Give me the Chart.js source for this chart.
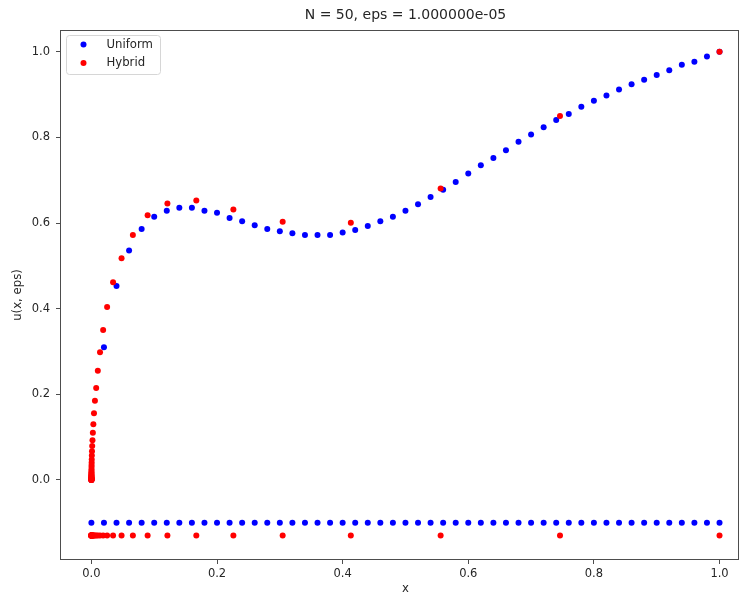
<!DOCTYPE html>
<html lang="en">
<head>
  <meta charset="UTF-8">
  <title>N = 50, eps = 1.000000e-05</title>
  <script src="https://cdn.jsdelivr.net/npm/chart.js"></script>
  <style>
    html, body { margin: 0; padding: 0; background: #fff; }
    #wrap { width: 742px; height: 596px; }
  </style>
</head>
<body>
  <div id="wrap"><canvas id="solChart" width="742" height="596"></canvas></div>

  <script>
    // values
    const titleText = 'N = 50, eps = 1.000000e-05';
    const seriesNames = ['Uniform', 'Hybrid'];

    const uniformX = [0, 0.02, 0.04, 0.06, 0.08, 0.10, 0.12, 0.14, 0.16, 0.18,
      0.20, 0.22, 0.24, 0.26, 0.28, 0.30, 0.32, 0.34, 0.36, 0.38,
      0.40, 0.42, 0.44, 0.46, 0.48, 0.50, 0.52, 0.54, 0.56, 0.58,
      0.60, 0.62, 0.64, 0.66, 0.68, 0.70, 0.72, 0.74, 0.76, 0.78,
      0.80, 0.82, 0.84, 0.86, 0.88, 0.90, 0.92, 0.94, 0.96, 0.98, 1.00];
    const uniformY = [0, 0.310, 0.453, 0.536, 0.586, 0.615, 0.629, 0.636, 0.636, 0.629,
      0.624, 0.612, 0.604, 0.595, 0.586, 0.581, 0.576, 0.572, 0.572, 0.572,
      0.578, 0.584, 0.593, 0.604, 0.615, 0.629, 0.644, 0.661, 0.678, 0.696,
      0.716, 0.735, 0.752, 0.770, 0.790, 0.807, 0.824, 0.841, 0.855, 0.872,
      0.886, 0.898, 0.912, 0.924, 0.935, 0.946, 0.957, 0.970, 0.977, 0.989, 1.000];

    const hybridX = [0, 0.0000004, 0.0000005, 0.0000007, 0.0000009, 0.0000012, 0.0000016, 0.0000022, 0.000003, 0.000004,
      0.0000055, 0.0000075, 0.00001, 0.000014, 0.000018, 0.000025, 0.000033, 0.000045, 0.00006, 0.00008,
      0.00011, 0.00015, 0.00021, 0.00028, 0.00038, 0.00051, 0.00069, 0.00093, 0.00125, 0.0017,
      0.0023, 0.0031, 0.0041, 0.0056, 0.0076, 0.0102, 0.0137, 0.0187, 0.025, 0.0345,
      0.048, 0.066, 0.0895, 0.121, 0.167, 0.226, 0.3045, 0.413, 0.556, 0.746, 1.0];
    const hybridY = [0, 0.0001, 0.0002, 0.0004, 0.0007, 0.001, 0.0015, 0.002, 0.0025, 0.003,
      0.0038, 0.0045, 0.0055, 0.0065, 0.008, 0.009, 0.011, 0.013, 0.015, 0.018,
      0.021, 0.025, 0.030, 0.035, 0.041, 0.048, 0.057, 0.067, 0.079, 0.093,
      0.110, 0.130, 0.156, 0.185, 0.215, 0.255, 0.298, 0.350, 0.404, 0.462,
      0.518, 0.572, 0.618, 0.646, 0.653, 0.632, 0.603, 0.601, 0.681, 0.850, 1.0];

    // the mesh nodes are drawn as two rows under the curves
    const uniformMeshLevel = -0.10;
    const hybridMeshLevel = -0.13;

    const xTicks = [0, 0.2, 0.4, 0.6, 0.8, 1.0];
    const yTicks = [0, 0.2, 0.4, 0.6, 0.8, 1.0];

    const FONT = 'DejaVu Sans';
    const TEXT = '#262626';
    const BLUE = '#0000ff';
    const RED = '#ff0000';

    const toPoints = (xs, ys) => xs.map((x, i) => ({ x: x, y: ys[i] }));
    const toRow = (xs, level) => xs.map(x => ({ x: x, y: level }));

    // title, axis names, frame and legend box (matplotlib look)
    const decorations = {
      id: 'decorations',
      afterDraw(chart) {
        const ctx = chart.ctx;
        const a = chart.chartArea;
        const xs = chart.scales.x;
        const mid = (xs.getPixelForValue(-0.05) + xs.getPixelForValue(1.05)) / 2;
        ctx.save();

        ctx.strokeStyle = '#4d4d4d';
        ctx.lineWidth = 1;
        ctx.strokeRect(a.left + 0.5, a.top + 0.5, a.right - a.left - 1, a.bottom - a.top - 1);

        ctx.fillStyle = TEXT;
        ctx.textAlign = 'center';
        ctx.textBaseline = 'middle';
        ctx.font = '14px "' + FONT + '"';
        ctx.fillText(titleText, mid, 15);

        ctx.font = '11.7px "' + FONT + '"';
        ctx.fillText('x', mid, 589);
        ctx.translate(18, (a.top + a.bottom) / 2);
        ctx.rotate(-Math.PI / 2);
        ctx.fillText('u(x, eps)', 0, 0);
        ctx.setTransform(1, 0, 0, 1, 0, 0);

        // legend
        const bx = a.left + 6.5, by = a.top + 5.5, bw = 94, bh = 39, r = 3;
        ctx.beginPath();
        ctx.moveTo(bx + r, by);
        ctx.arcTo(bx + bw, by, bx + bw, by + bh, r);
        ctx.arcTo(bx + bw, by + bh, bx, by + bh, r);
        ctx.arcTo(bx, by + bh, bx, by, r);
        ctx.arcTo(bx, by, bx + bw, by, r);
        ctx.closePath();
        ctx.fillStyle = 'rgba(255,255,255,0.8)';
        ctx.fill();
        ctx.strokeStyle = '#d6d6d6';
        ctx.stroke();

        ctx.textAlign = 'left';
        [0, 1].forEach(i => {
          const ds = chart.data.datasets[i];
          const yy = by + 9 + i * 18.4;
          ctx.beginPath();
          ctx.arc(bx + 17, yy, 3, 0, Math.PI * 2);
          ctx.fillStyle = ds.backgroundColor;
          ctx.fill();
          ctx.fillStyle = TEXT;
          ctx.fillText(ds.label, bx + 40, yy);
        });
        ctx.restore();
      }
    };

    const tickFont = { family: FONT, size: 11.5 };

    new Chart(document.getElementById('solChart'), {
      type: 'scatter',
      data: {
        datasets: [
          { label: seriesNames[0], data: toPoints(uniformX, uniformY), backgroundColor: BLUE, order: 2 },
          { label: seriesNames[1], data: toPoints(hybridX, hybridY), backgroundColor: RED, order: 1 },
          { label: seriesNames[0] + ' mesh', data: toRow(uniformX, uniformMeshLevel), backgroundColor: BLUE, order: 2 },
          { label: seriesNames[1] + ' mesh', data: toRow(hybridX, hybridMeshLevel), backgroundColor: RED, order: 1 }
        ]
      },
      options: {
        responsive: false,
        animation: false,
        devicePixelRatio: 1,
        layout: { padding: { top: 30, right: 1, left: 0, bottom: 0 } },
        elements: {
          point: { radius: 3, borderWidth: 0, hoverRadius: 3 }
        },
        plugins: {
          legend: { display: false },
          title: { display: false },
          tooltip: { enabled: false }
        },
        scales: {
          x: {
            type: 'linear',
            min: -0.05,
            max: 1.031,
            afterFit: s => { s.height = 36; s.paddingLeft = 0; s.paddingRight = 0; },
            afterBuildTicks: s => { s.ticks = xTicks.map(v => ({ value: v })); },
            ticks: { color: TEXT, font: tickFont, padding: 3, maxRotation: 0, callback: v => v.toFixed(1) },
            grid: { drawOnChartArea: false, drawTicks: true, tickLength: 4, color: '#4d4d4d' },
            border: { display: false }
          },
          y: {
            type: 'linear',
            min: -0.187,
            max: 1.051,
            afterFit: s => { s.width = 60; s.paddingTop = 0; s.paddingBottom = 0; },
            afterBuildTicks: s => { s.ticks = yTicks.map(v => ({ value: v })); },
            ticks: { color: TEXT, font: tickFont, padding: 6, callback: v => v.toFixed(1) },
            grid: { drawOnChartArea: false, drawTicks: true, tickLength: 4, color: '#4d4d4d' },
            border: { display: false }
          }
        }
      },
      plugins: [decorations]
    });
  </script>
</body>
</html>
